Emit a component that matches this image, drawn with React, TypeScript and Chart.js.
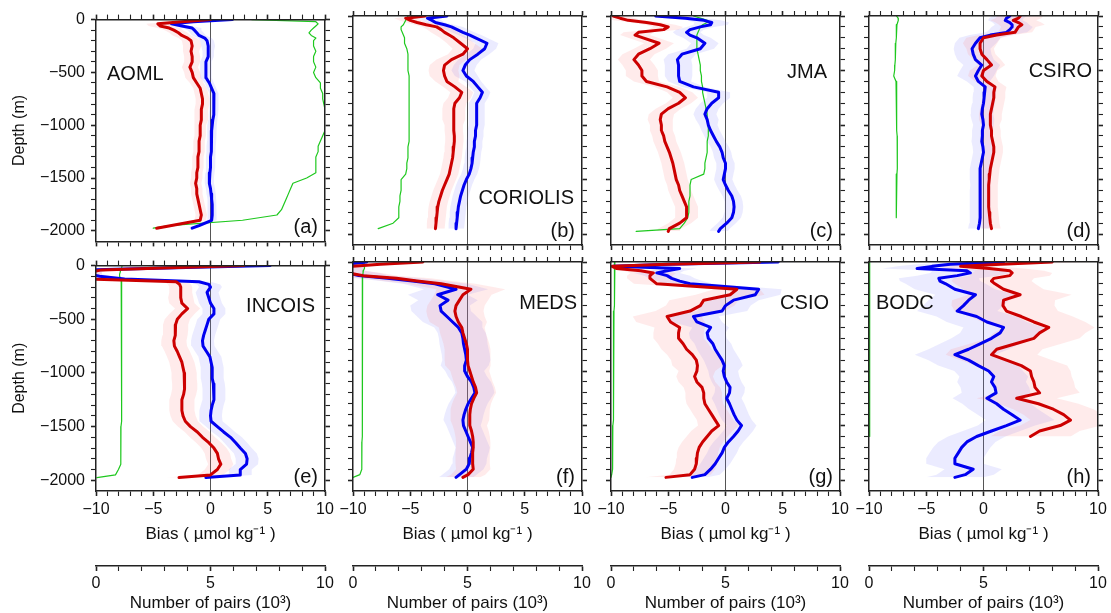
import React, { useEffect, useRef } from 'react';
import { Chart, registerables } from 'chart.js';

Chart.register(...registerables);

const FONT = '"Liberation Sans", Arial, Helvetica, sans-serif';
Chart.defaults.font.family = FONT;
Chart.defaults.color = '#111';

// ---------------- data ----------------
const DEPTHS = [0, 20, 40, 60, 80, 100, 125, 150, 175, 200,
  250, 300, 350, 400, 450, 500, 550, 600, 650, 700,
  750, 800, 850, 900, 950, 1000, 1050, 1100, 1150, 1200,
  1250, 1300, 1350, 1400, 1450, 1500, 1550, 1600, 1650, 1700,
  1750, 1800, 1850, 1900, 1950, 1975];

const BIAS_TICK_LABELS = [-10, -5, 0, 5, 10];
const DEPTH_TICK_LABELS = [0, -500, -1000, -1500, -2000];
const PAIRS_TICK_LABELS = [0, 5, 10];
const AGENCIES = ['AOML', 'CORIOLIS', 'JMA', 'CSIRO', 'INCOIS', 'MEDS', 'CSIO', 'BODC'];
const LETTERS = ['(a)', '(b)', '(c)', '(d)', '(e)', '(f)', '(g)', '(h)'];
const BIAS_TITLE = 'Bias ( \u00b5mol kg\u207b\u00b9 )';
const PAIRS_TITLE = 'Number of pairs (10\u00b3)';
const DEPTH_TITLE = 'Depth (m)';

// uncertainty half-widths for depth ranges split at these depths
const ERR_BREAKS = [100, 300, 600, 1000, 1500];

const AOML_RED = [0.0, -2.5, -4.6, -4.4, -3.6, -3.2, -2.8, -2.5, -2.0, -1.7,
  -1.6, -1.7, -1.6, -1.6, -1.8, -1.6, -1.5, -1.2, -0.9, -0.8,
  -0.7, -0.7, -0.8, -0.8, -0.8, -0.9, -0.9, -0.9, -1.0, -1.0,
  -1.0, -1.1, -1.1, -1.1, -1.2, -1.2, -1.3, -1.2, -1.2, -1.1,
  -1.0, -0.9, -0.8, -0.9, -3.4, -4.7];
const AOML_BLUE = [1.9, -1.5, -3.4, -2.5, -1.6, -1.4, -1.2, -1.0, -0.5, -0.3,
  -0.2, -0.2, -0.2, -0.4, -0.4, -0.4, -0.4, -0.1, 0.1, 0.3,
  0.3, 0.3, 0.3, 0.25, 0.2, 0.15, 0.1, 0.1, 0.1, 0.05,
  0.05, 0.0, 0.0, 0.0, -0.05, -0.1, -0.1, 0.0, 0.05, 0.1,
  0.15, 0.15, 0.15, 0.1, -1.0, -1.6];
const AOML_PAIRS = [6.8, 9.6, 9.7, 9.6, 9.5, 9.4, 9.3, 9.4, 9.6, 9.5,
  9.5, 9.6, 9.5, 9.5, 9.6, 9.5, 9.6, 9.8, 9.8, 9.9,
  9.9, 9.95, 10, 10, 10, 10, 10, 9.9, 9.8, 9.7,
  9.7, 9.6, 9.6, 9.6, 9.6, 9.2, 8.6, 8.5, 8.4, 8.3,
  8.2, 8.1, 7.9, 6.4, 3.2, 2.5];
const AOML_RED_ERR = [1.0, 0.8, 0.7, 0.6, 0.5, 0.5];
const AOML_BLUE_ERR = [0.8, 0.6, 0.5, 0.4, 0.4, 0.4];

const CORIOLIS_RED = [-3.7, -5.4, -5.0, -4.4, -3.6, -2.7, -2.3, -2.0, -1.6, -1.2,
  -0.6, 0.0, -0.4, -1.4, -2.0, -2.1, -2.0, -1.8, -1.1, -0.5,
  -0.7, -1.1, -1.2, -1.2, -1.2, -1.2, -1.2, -1.15, -1.15, -1.2,
  -1.25, -1.3, -1.4, -1.5, -1.6, -1.8, -2.0, -2.2, -2.35, -2.5,
  -2.6, -2.65, -2.7, -2.75, -2.8, null];
const CORIOLIS_BLUE = [-1.8, -3.5, -3.1, -2.8, -2.0, -1.4, -0.9, -0.4, 0.2, 0.7,
  1.7, 1.5, 0.9, 0.2, -0.2, -0.4, -0.1, 0.5, 0.9, 1.3,
  1.1, 0.8, 0.8, 0.8, 0.8, 0.8, 0.7, 0.7, 0.6, 0.6,
  0.5, 0.45, 0.4, 0.3, 0.15, -0.1, -0.3, -0.45, -0.6, -0.7,
  -0.8, -0.85, -0.9, -0.95, -1.0, null];
const CORIOLIS_PAIRS = [2.4, 2.35, 2.3, 2.25, 2.2, 2.1, 2.1, 2.15, 2.2, 2.25,
  2.25, 2.35, 2.4, 2.4, 2.4, 2.4, 2.45, 2.45, 2.45, 2.45,
  2.45, 2.45, 2.45, 2.45, 2.45, 2.45, 2.45, 2.45, 2.45, 2.4,
  2.4, 2.4, 2.35, 2.35, 2.3, 2.1, 2.1, 2.1, 2.05, 2.05,
  2.0, 2.0, 2.0, 1.75, 1.1, null];
const CORIOLIS_RED_ERR = [1.0, 1.2, 1.3, 1.0, 0.8, 0.8];
const CORIOLIS_BLUE_ERR = [0.8, 1.0, 1.0, 0.7, 0.7, 0.7];

const JMA_RED = [-9.8, -9.2, -8.5, -6.9, -5.7, -5.0, -5.4, -7.6, -7.9, -7.2,
  -5.8, -6.6, -7.6, -8.0, -7.6, -7.3, -7.3, -6.9, -5.1, -4.0,
  -3.5, -4.1, -5.0, -5.6, -5.7, -5.6, -5.6, -5.4, -5.3, -5.1,
  -4.9, -4.75, -4.6, -4.5, -4.4, -4.3, -4.1, -4.0, -3.8, -3.6,
  -3.4, -3.4, -3.4, -4.0, -4.9, -5.0];
const JMA_BLUE = [-6.1, -3.5, -1.9, -1.2, -1.3, -2.2, -3.1, -3.4, -3.1, -2.5,
  -1.8, -2.2, -3.8, -4.2, -4.1, -4.1, -4.1, -4.0, -2.8, -0.6,
  -0.6, -1.2, -1.6, -1.8, -1.6, -1.5, -1.3, -1.05, -0.8, -0.5,
  -0.3, -0.2, 0.0, 0.0, -0.1, -0.2, 0.0, 0.25, 0.55, 0.7,
  0.75, 0.7, 0.55, 0.1, -0.45, -0.6];
const JMA_PAIRS = [3.6, 3.9, 4.2, 4.2, 4.0, 3.9, 3.85, 3.8, 3.75, 3.75,
  3.75, 3.75, 3.8, 3.85, 3.9, 3.9, 3.95, 3.95, 4.0, 4.0,
  4.05, 4.1, 4.15, 4.2, 4.2, 4.25, 4.25, 4.25, 4.2, 4.2,
  4.2, 4.15, 4.1, 4.1, 4.05, 3.5, 3.45, 3.45, 3.45, 3.4,
  3.4, 3.4, 3.35, 3.2, 3.0, 1.1];
const JMA_RED_ERR = [1.3, 1.3, 1.4, 1.1, 1.0, 1.0];
const JMA_BLUE_ERR = [1.5, 1.2, 1.2, 1.0, 0.8, 0.8];

const CSIRO_RED = [3.2, 3.05, 2.6, 3.05, 3.35, 3.05, 2.9, 2.75, 1.15, 0.0,
  -0.3, -0.3, -0.15, 0.3, 0.7, 0.0, -0.15, 0.3, 1.0, 0.9,
  0.9, 0.8, 0.7, 0.6, 0.6, 0.6, 0.7, 0.7, 0.8, 0.9,
  0.9, 0.8, 0.7, 0.6, 0.55, 0.5, 0.45, 0.45, 0.45, 0.45,
  0.45, 0.5, 0.55, 0.6, 0.7, null];
const CSIRO_BLUE = [2.3, 2.0, 1.9, 2.3, 2.5, 2.5, 2.3, 2.0, 0.6, -0.3,
  -0.7, -1.0, -0.9, -0.7, -0.15, -0.45, -0.7, -0.45, 0.15, 0.1,
  0.05, 0.0, -0.1, -0.15, -0.05, 0.0, -0.1, -0.1, -0.15, -0.05,
  0.0, -0.1, -0.2, -0.3, -0.3, -0.3, -0.25, -0.3, -0.3, -0.3,
  -0.3, -0.3, -0.3, -0.35, -0.45, null];
const CSIRO_PAIRS = [1.2, 1.27, 1.28, 1.25, 1.22, 1.2, 1.2, 1.2, 1.19, 1.18,
  1.17, 1.16, 1.15, 1.14, 1.13, 1.12, 1.08, 1.18, 1.19, 1.2,
  1.2, 1.2, 1.21, 1.21, 1.22, 1.22, 1.22, 1.23, 1.23, 1.24,
  1.24, 1.24, 1.24, 1.23, 1.22, 1.21, 1.2, 1.2, 1.19, 1.19,
  1.18, 1.18, 1.18, null, null, null];
const CSIRO_RED_ERR = [2.0, 1.5, 1.2, 1.0, 0.8, 0.8];
const CSIRO_BLUE_ERR = [1.5, 1.8, 1.6, 1.0, 0.9, 0.9];

const INCOIS_RED = [2.9, -3.5, -9.5, -10.5, -10.5, -10.5, -10.5, -3.0, -2.7, -2.6,
  -2.6, -2.6, -2.5, -2.0, -2.5, -2.9, -3.05, -3.05, -3.1, -3.2,
  -3.15, -2.9, -2.7, -2.5, -2.4, -2.3, -2.3, -2.25, -2.25, -2.35,
  -2.5, -2.5, -2.5, -2.4, -2.2, -1.75, -1.15, -0.7, -0.15, 0.3,
  0.6, 0.7, 0.9, 0.6, 0.0, -2.75];
const INCOIS_BLUE = [5.2, -3.0, -10.5, -10.5, -10.5, -9.7, -7.5, -1.0, -0.15, 0.0,
  -0.3, -0.15, 0.0, 0.3, 0.3, -0.15, -0.3, -0.45, -0.6, -0.7,
  -0.65, -0.35, -0.05, 0.05, 0.15, 0.15, 0.15, 0.25, 0.3, 0.3,
  0.3, 0.15, 0.05, 0.0, 0.05, 0.6, 1.15, 1.75, 2.2, 2.6,
  3.05, 3.2, 3.15, 2.6, 2.6, -0.4];
const INCOIS_PAIRS = [1.14, 1.12, 1.08, 1.06, 1.03, 1.03, 1.1, 1.13, 1.13, 1.13,
  1.13, 1.13, 1.13, 1.13, 1.13, 1.13, 1.13, 1.13, 1.13, 1.12,
  1.12, 1.12, 1.12, 1.12, 1.12, 1.12, 1.11, 1.11, 1.11, 1.11,
  1.1, 1.1, 1.1, 1.1, 1.1, 1.09, 1.09, 1.09, 1.09, 1.08,
  1.08, 1.08, 1.07, 0.98, 0.85, 0.04];
const INCOIS_RED_ERR = [1.0, 1.0, 1.1, 1.1, 1.1, 1.1];
const INCOIS_BLUE_ERR = [1.0, 1.0, 1.0, 1.0, 1.0, 1.0];

const MEDS_RED = [-3.9, -7.6, -10.2, -10.5, -10.5, -10.5, -9.1, -6.2, -4.4, -2.3,
  0.3, -0.4, -0.7, -1.0, -1.1, -1.0, -0.8, -0.5, -0.4, -0.25,
  -0.1, 0.0, 0.0, 0.0, 0.05, 0.2, 0.35, 0.5, 0.7, 0.8,
  0.55, 0.35, 0.25, 0.2, 0.2, 0.2, 0.35, 0.45, 0.5, 0.5,
  0.45, 0.45, 0.45, 0.5, 0.05, -0.4];
const MEDS_BLUE = [-8.8, -10.5, -10.5, -10.5, -10.5, -10.5, -9.5, -7.0, -4.8, -2.85,
  -1.0, -2.6, -1.7, -2.4, -2.3, -1.8, -1.3, -0.8, -0.5, -0.4,
  -0.35, -0.25, -0.15, -0.1, -0.25, -0.25, 0.0, 0.35, 0.55, 0.65,
  0.35, 0.05, -0.15, -0.3, -0.4, -0.35, -0.15, 0.05, 0.25, 0.45,
  0.35, 0.2, 0.15, -0.1, -0.7, -1.0];
const MEDS_PAIRS = [0.44, 0.5, 0.5, 0.5, 0.45, 0.44, 0.42, 0.42, 0.42, 0.42,
  0.42, 0.42, 0.42, 0.42, 0.41, 0.41, 0.41, 0.41, 0.41, 0.41,
  0.41, 0.41, 0.41, 0.41, 0.4, 0.4, 0.4, 0.4, 0.4, 0.4,
  0.4, 0.4, 0.4, 0.4, 0.4, 0.4, 0.4, 0.4, 0.39, 0.39,
  0.39, 0.39, 0.38, 0.37, 0.3, 0.0];
const MEDS_RED_ERR = [1.5, 3.0, 2.5, 2.0, 1.7, 1.5];
const MEDS_BLUE_ERR = [1.5, 2.8, 2.6, 2.1, 1.7, 1.5];

const CSIO_RED = [3.0, -5.0, -9.9, -9.5, -7.4, -6.3, -6.6, -6.6, -6.3, -6.0,
  1.0, 0.4, -1.9, -2.2, -3.1, -5.1, -4.8, -4.0, -4.1, -4.1,
  -3.7, -3.4, -2.9, -2.55, -2.45, -2.5, -2.7, -2.5, -2.05, -1.9,
  -1.9, -1.8, -1.5, -1.2, -0.9, -0.6, -1.2, -1.6, -2.0, -2.3,
  -2.45, -2.5, -2.55, -2.7, -3.1, -5.2];
const CSIO_BLUE = [4.6, -5.0, -9.8, -4.0, -5.1, -6.0, -5.1, -4.7, -4.0, -3.1,
  2.9, 2.6, 0.7, 0.0, -0.3, -2.8, -2.5, -1.3, -1.6, -1.5,
  -1.1, -0.9, -0.6, -0.3, -0.1, -0.2, -0.1, 0.1, 0.4, 0.35,
  0.1, 0.35, 0.55, 0.75, 1.0, 1.4, 1.1, 0.7, 0.25, -0.1,
  -0.3, -0.6, -0.9, -1.3, -1.8, -2.9];
const CSIO_PAIRS = [0.17, 0.17, 0.16, 0.16, 0.16, 0.15, 0.15, 0.15, 0.15, 0.15,
  0.14, 0.14, 0.14, 0.14, 0.13, 0.13, 0.13, 0.13, 0.12, 0.12,
  0.12, 0.12, 0.11, 0.11, 0.11, 0.11, 0.1, 0.1, 0.1, 0.1,
  0.1, 0.09, 0.09, 0.09, 0.09, 0.08, 0.08, 0.08, 0.08, 0.07,
  0.07, 0.07, 0.06, 0.05, 0.03, 0.0];
const CSIO_RED_ERR = [1.5, 2.0, 3.0, 2.2, 1.6, 1.8];
const CSIO_BLUE_ERR = [1.5, 2.0, 2.2, 1.6, 1.3, 1.3];

const BODC_RED = [6.0, 1.5, -2.0, 0.5, 2.3, 2.5, 2.3, 0.9, 0.7, 1.0,
  1.75, 3.2, 1.75, 1.7, 2.0, 3.3, 4.4, 5.7, 4.9, 4.4,
  2.8, 1.15, 0.7, 2.0, 3.3, 4.1, 4.2, 4.4, 4.5, 4.9,
  2.9, 4.8, 6.1, 7.0, 7.6, 6.7, 4.9, 4.1, null, null,
  null, null, null, null, null, null];
const BODC_BLUE = [1.75, -2.9, -4.5, -5.8, -1.45, -1.15, -2.3, -3.9, -3.8, -3.3,
  -2.5, -0.7, -1.3, -1.75, -2.3, -0.6, 0.3, 1.75, 1.45, 0.7,
  -0.3, -1.3, -2.5, -1.3, -0.45, 0.45, 0.9, 0.7, 1.0, 1.1,
  0.3, 1.15, 1.75, 2.5, 3.2, 2.0, 0.7, -0.6, -1.45, -1.9,
  -2.2, -2.5, -2.5, -0.9, -1.6, -2.5];
const BODC_PAIRS = [0.03, 0.03, 0.03, 0.03, 0.03, 0.03, 0.03, 0.03, 0.03, 0.03,
  0.03, 0.03, 0.03, 0.03, 0.03, 0.03, 0.03, 0.03, 0.03, 0.03,
  0.03, 0.03, 0.03, 0.03, 0.03, 0.03, 0.03, 0.03, 0.03, 0.03,
  0.03, 0.03, 0.03, 0.03, 0.03, 0.03, 0.03, 0.03, null, null,
  null, null, null, null, null, null];
const BODC_RED_ERR = [3.0, 3.5, 4.5, 4.0, 3.5, 3.5];
const BODC_BLUE_ERR = [3.0, 3.5, 3.5, 3.5, 3.0, 2.5];

const PANELS = [
  { red: AOML_RED, blue: AOML_BLUE, pairs: AOML_PAIRS, redErr: AOML_RED_ERR, blueErr: AOML_BLUE_ERR },
  { red: CORIOLIS_RED, blue: CORIOLIS_BLUE, pairs: CORIOLIS_PAIRS, redErr: CORIOLIS_RED_ERR, blueErr: CORIOLIS_BLUE_ERR },
  { red: JMA_RED, blue: JMA_BLUE, pairs: JMA_PAIRS, redErr: JMA_RED_ERR, blueErr: JMA_BLUE_ERR },
  { red: CSIRO_RED, blue: CSIRO_BLUE, pairs: CSIRO_PAIRS, redErr: CSIRO_RED_ERR, blueErr: CSIRO_BLUE_ERR },
  { red: INCOIS_RED, blue: INCOIS_BLUE, pairs: INCOIS_PAIRS, redErr: INCOIS_RED_ERR, blueErr: INCOIS_BLUE_ERR },
  { red: MEDS_RED, blue: MEDS_BLUE, pairs: MEDS_PAIRS, redErr: MEDS_RED_ERR, blueErr: MEDS_BLUE_ERR },
  { red: CSIO_RED, blue: CSIO_BLUE, pairs: CSIO_PAIRS, redErr: CSIO_RED_ERR, blueErr: CSIO_BLUE_ERR },
  { red: BODC_RED, blue: BODC_BLUE, pairs: BODC_PAIRS, redErr: BODC_RED_ERR, blueErr: BODC_BLUE_ERR },
];

// ---------------- layout / style ----------------
const COL_LEFT = [96, 353, 611, 869];
const ROW_TOP = [16, 262];
const AREA_W = 229;
const AREA_H = 229;
const NAME_POS = [
  { side: 'left', dx: 11, dy: 55 },
  { side: 'right', dx: 8, dy: 182 },
  { side: 'right', dx: 13, dy: 56 },
  { side: 'right', dx: 6, dy: 55 },
  { side: 'right', dx: 10, dy: 41 },
  { side: 'right', dx: 5, dy: 41 },
  { side: 'right', dx: 11, dy: 41 },
  { side: 'left', dx: 7, dy: 41 },
];
const RED = '#cc0000';
const BLUE = '#0000f0';
const GREEN = '#1ec81e';
const RED_BAND = 'rgba(255,110,110,0.14)';
const BLUE_BAND = 'rgba(110,110,255,0.14)';
const INK = '#222';

const fmtMinus = (v: number) => (v < 0 ? '\u2212' + Math.abs(v) : String(v));

function errAt(errs: number[], d: number) {
  let k = 0;
  while (k < ERR_BREAKS.length && d >= ERR_BREAKS[k]) k++;
  return errs[k];
}

function points(vals: (number | null)[], errs?: number[], sign = 0) {
  const out: { x: number; y: number }[] = [];
  DEPTHS.forEach((d, i) => {
    const v = vals[i];
    if (v == null) return;
    out.push({ x: v + (errs ? sign * errAt(errs, d) : 0), y: -d });
  });
  return out;
}

function labelPlugin(idx: number) {
  return {
    id: 'panelLabels',
    afterDraw(chart: any) {
      const { ctx, chartArea: a } = chart;
      const pos = NAME_POS[idx];
      ctx.save();
      ctx.font = `20px ${FONT}`;
      ctx.fillStyle = '#111';
      ctx.textBaseline = 'middle';
      ctx.textAlign = pos.side;
      ctx.fillText(AGENCIES[idx], pos.side === 'left' ? a.left + pos.dx : a.right - pos.dx, a.top + pos.dy);
      ctx.textAlign = 'right';
      ctx.fillText(LETTERS[idx], a.right - 7, a.bottom - 14);
      ctx.restore();
    },
  };
}

function geometry(idx: number) {
  const row = idx < 4 ? 0 : 1;
  const col = idx % 4;
  const leftW = col === 0 ? 96 : 20;
  const rightW = 20;
  const topH = 12;
  const bottomH = row === 0 ? 12 : 75;
  const pairsH = row === 0 ? 0 : 48;
  return {
    row, col, leftW, rightW, topH, bottomH, pairsH,
    left: COL_LEFT[col] - leftW,
    top: ROW_TOP[row] - topH,
    width: leftW + AREA_W + rightW,
    height: topH + AREA_H + bottomH + pairsH,
  };
}

function buildConfig(idx: number): any {
  const g = geometry(idx);
  const p = PANELS[idx];
  const frame = { display: true, color: INK, width: 1.5, z: 1 };
  const lineBase = { pointRadius: 0, borderJoinStyle: 'round', borderCapStyle: 'round', tension: 0 };
  const bandBase = { ...lineBase, borderWidth: 0, borderColor: 'rgba(0,0,0,0)', order: 10, xAxisID: 'x', yAxisID: 'y' };
  const datasets = [
    { ...bandBase, data: points(p.red, p.redErr, -1), backgroundColor: RED_BAND, fill: false },
    { ...bandBase, data: points(p.red, p.redErr, 1), backgroundColor: RED_BAND, fill: '-1' },
    { ...bandBase, data: points(p.blue, p.blueErr, -1), backgroundColor: BLUE_BAND, fill: false },
    { ...bandBase, data: points(p.blue, p.blueErr, 1), backgroundColor: BLUE_BAND, fill: '-1' },
    { ...lineBase, data: points(p.pairs), borderColor: GREEN, borderWidth: 1.2, fill: false, order: 3, xAxisID: 'xp', yAxisID: 'y' },
    { ...lineBase, data: points(p.blue), borderColor: BLUE, borderWidth: 3, fill: false, order: 2, xAxisID: 'x', yAxisID: 'y' },
    { ...lineBase, data: points(p.red), borderColor: RED, borderWidth: 3, fill: false, order: 1, xAxisID: 'x', yAxisID: 'y' },
  ];
  const isMajorBias = (v: number) => BIAS_TICK_LABELS.includes(v);
  const isMajorDepth = (v: number) => DEPTH_TICK_LABELS.includes(v);
  const tickW = (major: (v: number) => boolean) => (c: any) => (c.tick && major(c.tick.value) ? 1.6 : 1.1);
  return {
    type: 'line',
    data: { datasets },
    plugins: [labelPlugin(idx)],
    options: {
      responsive: false,
      animation: false,
      devicePixelRatio: 1,
      indexAxis: 'y',
      events: [],
      layout: { padding: 0 },
      plugins: { legend: { display: false }, tooltip: { enabled: false }, title: { display: false } },
      scales: {
        x: {
          type: 'linear', position: 'bottom', min: -10, max: 10, weight: 0,
          ticks: {
            stepSize: 1, autoSkip: false, maxRotation: 0, display: g.row === 1, padding: 4,
            font: { size: 16 }, color: '#111',
            callback: (v: any) => (isMajorBias(Number(v)) ? fmtMinus(Number(v)) : ''),
          },
          grid: {
            drawOnChartArea: true, drawTicks: true, tickLength: 5, tickColor: INK,
            color: (c: any) => (c.tick && c.tick.value === 0 ? '#555' : 'rgba(0,0,0,0)'),
            lineWidth: 1, tickWidth: tickW(isMajorBias),
          },
          border: frame,
          title: { display: g.row === 1, text: BIAS_TITLE, font: { size: 17 }, color: '#111', padding: { top: 0, bottom: 21 } },
          afterFit: (s: any) => { s.height = g.bottomH; },
        },
        xt: {
          type: 'linear', position: 'top', min: -10, max: 10,
          ticks: { stepSize: 1, autoSkip: false, display: false },
          grid: { drawOnChartArea: false, drawTicks: true, tickLength: 5, tickColor: INK, tickWidth: tickW(isMajorBias) },
          border: frame,
          afterFit: (s: any) => { s.height = g.topH; },
        },
        xp: {
          type: 'linear', position: 'bottom', min: 0, max: 10, weight: 1, display: g.row === 1,
          ticks: {
            stepSize: 1, autoSkip: false, maxRotation: 0, padding: 3, font: { size: 16 }, color: '#111',
            callback: (v: any) => (PAIRS_TICK_LABELS.includes(Number(v)) ? String(v) : ''),
          },
          grid: {
            drawOnChartArea: false, drawTicks: true, tickLength: 5, tickColor: INK,
            tickWidth: (c: any) => (c.tick && PAIRS_TICK_LABELS.includes(c.tick.value) ? 1.6 : 1.1),
          },
          border: { display: true, color: INK, width: 1.5 },
          title: { display: true, text: PAIRS_TITLE, font: { size: 17 }, color: '#111', padding: { top: 0, bottom: 0 } },
          afterFit: (s: any) => { s.height = g.pairsH; },
        },
        y: {
          type: 'linear', position: 'left', min: -2100, max: 0,
          ticks: {
            stepSize: 100, autoSkip: false, display: g.col === 0, padding: 6, font: { size: 16 }, color: '#111',
            callback: (v: any) => (isMajorDepth(Number(v)) ? fmtMinus(Number(v)) : ''),
          },
          grid: {
            drawOnChartArea: false, drawTicks: true, tickLength: 5,
            tickColor: (c: any) => (c.tick && c.tick.value === -2100 ? 'rgba(0,0,0,0)' : INK),
            tickWidth: tickW(isMajorDepth),
          },
          border: frame,
          title: { display: g.col === 0, text: DEPTH_TITLE, font: { size: 16 }, color: '#111', padding: { top: 10, bottom: 0 } },
          afterFit: (s: any) => { s.width = g.leftW; },
        },
        yr: {
          type: 'linear', position: 'right', min: -2100, max: 0,
          ticks: { stepSize: 100, autoSkip: false, display: false },
          grid: {
            drawOnChartArea: false, drawTicks: true, tickLength: 5,
            tickColor: (c: any) => (c.tick && c.tick.value === -2100 ? 'rgba(0,0,0,0)' : INK),
            tickWidth: tickW(isMajorDepth),
          },
          border: frame,
          afterFit: (s: any) => { s.width = g.rightW; },
        },
      },
    },
  };
}

function Panel({ idx }: { idx: number }) {
  const ref = useRef<HTMLCanvasElement>(null);
  const g = geometry(idx);
  useEffect(() => {
    if (!ref.current) return;
    const chart = new Chart(ref.current, buildConfig(idx));
    return () => chart.destroy();
  }, [idx]);
  return (
    <canvas
      ref={ref}
      width={g.width}
      height={g.height}
      style={{ position: 'absolute', left: g.left, top: g.top, width: g.width, height: g.height }}
    />
  );
}

export default function App() {
  return (
    <div style={{ position: 'fixed', left: 0, top: 0, width: 1111, height: 613, overflow: 'hidden', background: '#fff' }}>
      {AGENCIES.map((_, i) => (
        <Panel key={i} idx={i} />
      ))}
    </div>
  );
}
